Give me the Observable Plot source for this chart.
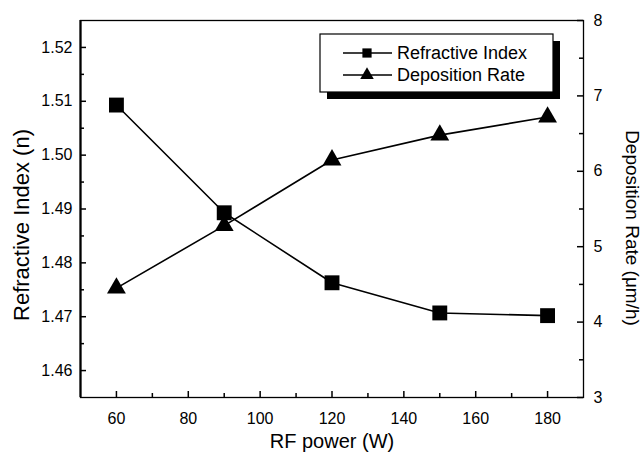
<!DOCTYPE html>
<html><head><meta charset="utf-8">
<script src="https://cdn.jsdelivr.net/npm/d3@7"></script>
<script src="https://cdn.jsdelivr.net/npm/@observablehq/plot@0.6"></script>
<style>
body{margin:0;background:#fff;}
#chart{width:643px;height:457px;}
svg{font-family:"Liberation Sans",Arial,sans-serif;}
</style></head><body><div id="chart"></div>
<script>
// ---- data ----
const rfPower = [60, 90, 120, 150, 180];
const refractiveIndex = [1.5093, 1.4893, 1.4763, 1.4707, 1.4702];
const depositionRate = [4.45, 5.28, 6.15, 6.48, 6.72];
const seriesNames = ["Refractive Index", "Deposition Rate"];
const xTicks = [60, 80, 100, 120, 140, 160, 180];
const xMinorTicks = [70, 90, 110, 130, 150, 170];
const leftTicks = [1.46, 1.47, 1.48, 1.49, 1.50, 1.51, 1.52];
const leftMinorTicks = [1.465, 1.475, 1.485, 1.495, 1.505, 1.515];
const rightTicks = [3, 4, 5, 6, 7, 8];
const rightMinorTicks = [3.5, 4.5, 5.5, 6.5, 7.5];
const xLabel = "RF power (W)";
const leftLabel = "Refractive Index (n)";
const rightLabel = "Deposition Rate (\u03bcm/h)";
const xDomain = [50, 190];
const leftDomain = [1.455, 1.525];
const rightDomain = [3, 8];

// right axis values mapped onto the left scale
const toLeft = d3.scaleLinear(rightDomain, leftDomain);
const rows = rfPower.map((p, i) => ({p, n: refractiveIndex[i], d: depositionRate[i]}));

// layout
const majorLen = 6, minorLen = 4;
const tickStyle = {stroke: "black", strokeWidth: 1.5};

const svgEl = Plot.plot({
  width: 643, height: 457,
  marginLeft: 80, marginRight: 60, marginTop: 20, marginBottom: 60,
  style: {fontFamily: '"Liberation Sans", Arial, sans-serif', fontSize: "16px", color: "black", background: "white"},
  x: {domain: xDomain},
  y: {domain: leftDomain},
  marks: [
    Plot.frame({stroke: "black", strokeWidth: 1.3}),
    Plot.ruleX([xDomain[0]], {stroke: "black", strokeWidth: 2.2}),
    // inward ticks: zero-length rules on the axis, extended inward by a negative inset
    Plot.ruleX(xTicks, {x: d => d, y1: leftDomain[0], y2: leftDomain[0], insetTop: -majorLen, ...tickStyle}),
    Plot.ruleX(xMinorTicks, {x: d => d, y1: leftDomain[0], y2: leftDomain[0], insetTop: -minorLen, ...tickStyle}),
    Plot.ruleY(leftTicks, {y: d => d, x1: xDomain[0], x2: xDomain[0], insetRight: -majorLen, ...tickStyle}),
    Plot.ruleY(leftMinorTicks, {y: d => d, x1: xDomain[0], x2: xDomain[0], insetRight: -minorLen, ...tickStyle}),
    Plot.ruleY(rightTicks, {y: d => toLeft(d), x1: xDomain[1], x2: xDomain[1], insetLeft: -majorLen, ...tickStyle}),
    Plot.ruleY(rightMinorTicks, {y: d => toLeft(d), x1: xDomain[1], x2: xDomain[1], insetLeft: -minorLen, ...tickStyle}),
    // tick labels
    Plot.axisX(xTicks, {tickSize: 0, tickPadding: 15, label: null, fontSize: 16}),
    Plot.axisY(leftTicks, {tickSize: 0, tickPadding: 8, tickFormat: d3.format(".2f"), label: null, fontSize: 16}),
    Plot.axisY(rightTicks, {anchor: "right", y: toLeft, tickSize: 0, tickPadding: 10, tickFormat: d => String(d), label: null, fontSize: 16}),
    // data
    Plot.line(rows, {x: "p", y: "n", stroke: "black", strokeWidth: 1.6}),
    Plot.line(rows, {x: "p", y: d => toLeft(d.d), stroke: "black", strokeWidth: 1.6}),
    Plot.dot(rows, {x: "p", y: "n", symbol: "square", r: 8.4, fill: "black", stroke: null}),
    Plot.dot(rows, {x: "p", y: d => toLeft(d.d), symbol: "triangle", r: 7, fill: "black", stroke: null}),
    // axis titles
    Plot.text([xLabel], {frameAnchor: "bottom", dy: 44, lineAnchor: "middle", textAnchor: "middle", fontSize: 20, text: d => d}),
    Plot.text([leftLabel], {frameAnchor: "left", dx: -59, dy: 16, rotate: -90, textAnchor: "middle", lineAnchor: "middle", fontSize: 22, text: d => d}),
    Plot.text([rightLabel], {frameAnchor: "right", dx: 49, dy: 19, rotate: 90, textAnchor: "middle", lineAnchor: "middle", fontSize: 19, text: d => d})
  ]
});
document.getElementById("chart").appendChild(svgEl);

// ---- legend (inside the plot, top right) ----
const svg = d3.select(svgEl);
const lg = svg.append("g").attr("class", "legend");
const box = {x: 320, y: 34, w: 233, h: 58, shadow: 7};
lg.append("rect").attr("x", box.x + box.shadow).attr("y", box.y + box.shadow)
  .attr("width", box.w).attr("height", box.h).attr("fill", "black");
lg.append("rect").attr("x", box.x).attr("y", box.y).attr("width", box.w).attr("height", box.h)
  .attr("fill", "white").attr("stroke", "black").attr("stroke-width", 1.2);
const symbols = [d3.symbolSquare, d3.symbolTriangle];
const symSizes = [85, 80];
seriesNames.forEach((name, i) => {
  const cy = 53 + i * 22;
  lg.append("line").attr("x1", 343).attr("x2", 392).attr("y1", cy).attr("y2", cy)
    .attr("stroke", "black").attr("stroke-width", 1.6);
  lg.append("path").attr("d", d3.symbol(symbols[i], symSizes[i])())
    .attr("transform", `translate(367,${cy})`).attr("fill", "black");
  lg.append("text").attr("x", 397).attr("y", cy).attr("dy", "0.35em")
    .attr("text-anchor", "start").attr("font-size", 18).attr("fill", "black").text(name);
});
</script></body></html>
